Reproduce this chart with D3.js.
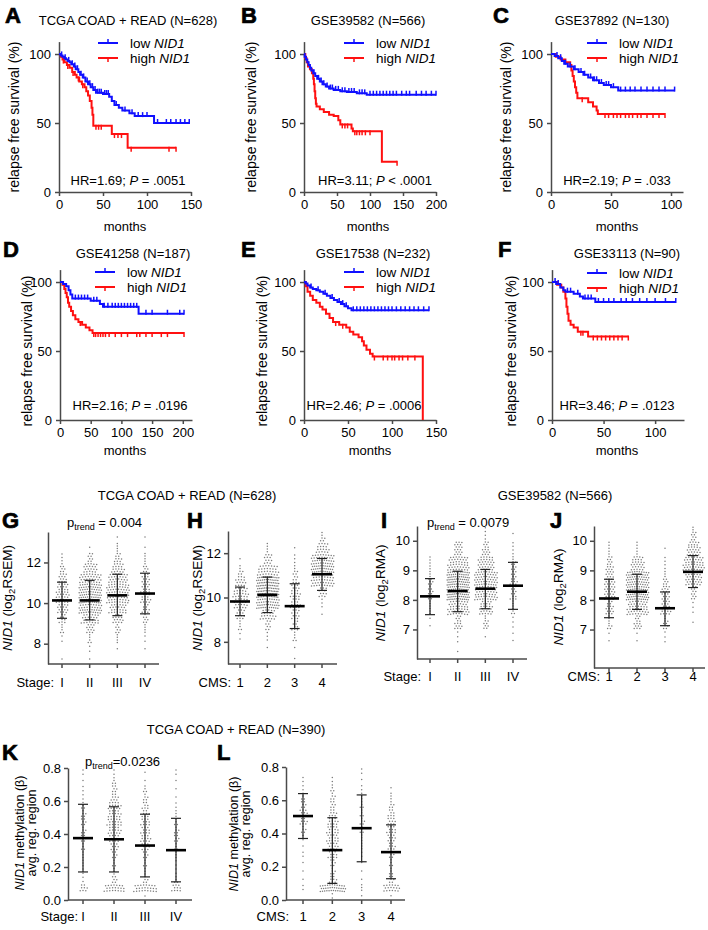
<!DOCTYPE html>
<html><head><meta charset="utf-8">
<script src="https://cdn.jsdelivr.net/npm/d3@7/dist/d3.min.js"></script>
<style>body{margin:0;background:#fff}svg{display:block}</style>
</head><body><svg id="c" width="708" height="930"></svg>
<script>
// ---------------- DATA: Kaplan-Meier steps [month, survival %], curve end, censor months ----------------
const aLow=[[0,100],[2,99],[4,98],[6,97],[8,96],[10,95],[12,94],[14,92.5],[17,91],[19,89],[22,87],[24,85],[27,83],[30,80],[33,78],[36,76],[39,74],[42,72],[50,71],[57,69],[60,66],[63,63],[68,61],[72,59],[80,57],[86,55],[108,50]];
const aLowEnd=148, aLowCens=[3,7,11,15,18,21,25,28,32,35,38,41,44,46,48,52,54,56,65,75,83,90,95,100,112,122,127,133,138,143,148];
const aHigh=[[0,100],[2,98],[4,96],[6,94],[9,92],[12,90],[15,87],[18,85],[20,83],[23,80],[26,78],[29,76],[31,73],[33,70],[35,66],[37,61],[38,56],[39,48],[60,42],[78,32]];
const aHighEnd=133, aHighCens=[5,10,16,22,27,42,45,48,63,67,71,82,125,133];

const bLow=[[0,100],[1,98],[3,96],[5,94],[7,92],[9,90],[11,88],[14,86],[17,84],[20,82],[24,80],[28,78],[33,76.5],[38,75],[45,74],[55,73],[65,72.5],[80,71.5],[95,70.5]];
const bLowEnd=200, bLowCens=[15,22,26,30,35,40,43,48,52,58,62,68,72,76,84,88,92,100,105,110,115,120,125,130,135,140,148,155,160,170,178,185,193,200];
const bHigh=[[0,100],[2,97],[4,94],[6,91],[9,89],[12,86],[14,82],[15,78],[16,73],[17,68],[18,64],[19,62],[24,60],[30,58],[38,56],[45,55],[52,52],[55,49],[72,46],[74,44],[118,22]];
const bHighEnd=141, bHighCens=[58,62,66,77,80,84,88,93,100,141];

const cLow=[[0,100],[3,98.5],[6,97],[9,95],[11,93],[14,91],[19,89],[23,87],[27,85],[31,83],[35,81],[40,79],[44,77.5],[50,76],[56,73.5]];
const cLowEnd=103, cLowCens=[5,8,12,16,20,25,28,33,36,38,42,46,48,52,58,62,66,70,75,80,85,90,95,103];
const cHigh=[[0,100],[4,98],[8,96],[12,94],[16,92],[17,88],[18,84],[19,80],[20,76],[21,72],[22,68],[31,65],[35,62],[38,59],[39,56.5]];
const cHighEnd=95, cHighCens=[26,45,48,52,55,58,62,65,68,72,75,80,85,90,95];

const dLow=[[0,100],[5,98.5],[10,97],[14,94],[17,91],[20,88],[50,86.5],[65,84],[70,82],[128,77]];
const dLowEnd=202, dLowCens=[25,30,35,40,45,55,60,72,78,85,90,95,100,105,110,115,120,125,140,150,175,195,202];
const dHigh=[[0,100],[4,98],[7,95],[9,92],[11,89],[13,85],[15,82],[18,79],[21,76],[25,73],[30,71],[36,69],[42,67],[48,65],[53,63]];
const dHighEnd=202, dHighCens=[33,55,58,62,66,70,74,80,90,100,110,125,130,140,150,165,175,202];

const eLow=[[0,100],[2,99],[4,97.5],[7,96],[10,95],[14,94],[18,93],[22,91.5],[26,90],[30,88.5],[34,87],[38,85.5],[42,84],[46,82.5],[50,81],[54,79.5]];
const eLowEnd=142, eLowCens=[8,16,24,32,40,44,48,56,60,64,68,72,76,80,84,88,92,96,100,105,110,115,120,125,130,136,142];
const eHigh=[[0,100],[2,97],[4,93],[7,90],[10,87],[14,85],[18,82],[21,80],[25,77],[29,74],[33,71],[40,69],[48,67],[52,64],[56,62],[62,60],[66,57],[68,54],[71,51],[75,48],[78,46],[135,0]];
const eHighEnd=135, eHighCens=[36,44,80,90,95,100,103,108,112,118,126];

const fLow=[[0,100],[4,98.5],[8,96],[11,94],[13,93],[21,91.5],[27,89.5],[30,88],[42,85.5]];
const fLowEnd=120, fLowCens=[3,6,15,18,25,32,35,38,45,50,55,60,67,72,78,85,92,100,110,120];
const fHigh=[[0,100],[5,98],[9,96],[11,93],[13,88],[14,82],[15,77],[16,72],[18,69],[21,67],[25,64],[35,60.5]];
const fHighEnd=74, fHighCens=[28,30,40,44,48,52,56,60,64,68,74];

const kmTitles=["TCGA COAD + READ (N=628)","GSE39582 (N=566)","GSE37892 (N=130)","GSE41258 (N=187)","GSE17538 (N=232)","GSE33113 (N=90)"];
const kmHR=["1.69","3.11","2.19","2.16","2.46","3.46"];
const kmP=["= .0051","< .0001","= .033","= .0196","= .0006","= .0123"];
const kmYTicks=[0,50,100];
const kmXTicks=[[0,50,100,150],[0,50,100,150,200],[0,50,100],[0,50,100,150,200],[0,50,100,150],[0,50,100]];
const kmXMax=[150,200,110,215,150,128];

// ---------------- DATA: scatter dot plots (counts per value bin), means, mean±SD ----------------
const stageLabels=["I","II","III","IV"], cmsLabels=["1","2","3","4"];
// G: TCGA NID1 log2 RSEM by stage; bins of 0.5 starting at 7.0
const gCounts=[[1,0,2,5,9,16,20,17,12,7,3,0,0],[1,2,5,12,25,38,45,40,32,20,8,1,0],[0,1,4,7,15,25,33,35,28,18,10,4,1],[0,1,2,4,7,10,14,13,11,7,4,1,1]];
const gMeans=[10.13,10.13,10.38,10.47], gSD=[[9.25,11.03],[9.17,11.12],[9.38,11.42],[9.47,11.47]];
// H: TCGA by CMS; bins of 0.5 starting at 7.0
const hCounts=[[0,0,2,5,12,20,22,15,6,1,0,0],[0,1,3,8,22,42,55,50,30,12,4,0],[1,1,5,9,12,14,14,10,6,3,1,0],[0,0,0,0,1,3,12,35,45,38,18,6]];
const hMeans=[9.82,10.12,9.61,11.05], hSD=[[9.18,10.47],[9.32,10.92],[8.6,10.62],[10.32,11.76]];
// I: GSE39582 log2 RMA by stage; bins of 0.5 starting at 6.0
const iCounts=[[0,0,2,6,11,9,5,0,0],[1,3,15,45,70,70,45,18,0],[0,1,10,28,50,55,35,15,4],[0,2,3,7,13,14,10,4,1]];
const iMeans=[8.12,8.3,8.38,8.48], iSD=[[7.5,8.72],[7.6,8.97],[7.7,9.03],[7.68,9.27]];
// J: GSE39582 by CMS; bins of 0.5 starting at 6.0
const jCounts=[[0,2,8,16,24,20,14,5,0],[0,2,15,45,65,60,28,5,0],[0,3,10,20,18,9,4,1,0],[0,0,1,3,12,35,45,28,10]];
const jMeans=[8.05,8.28,7.72,8.95], jSD=[[7.4,8.7],[7.68,8.87],[7.13,8.27],[8.42,9.5]];
// K: TCGA methylation beta by stage; bins of 0.05 starting at 0
const kCounts=[[0,8,2,2,3,3,4,6,5,6,5,4,2,2,1,2],[0,22,6,3,4,6,9,12,14,16,14,14,8,6,4,2],[1,25,5,3,4,6,9,11,10,10,8,7,5,4,1,1],[0,10,4,2,2,3,4,6,5,4,3,2,1,1,1,2]];
const kMeans=[0.375,0.368,0.33,0.302], kSD=[[0.17,0.58],[0.17,0.565],[0.14,0.52],[0.11,0.495]];
// L: TCGA methylation by CMS
const lCounts=[[0,2,1,1,1,2,1,2,5,8,9,6,4,2,2,0],[2,35,8,5,6,10,12,13,13,11,8,6,5,4,2,0],[1,3,1,1,1,2,3,3,4,5,4,4,3,2,1,2],[1,18,6,4,4,6,8,9,10,9,7,5,3,1,0,0]];
const lMeans=[0.505,0.30,0.432,0.288], lSD=[[0.37,0.64],[0.10,0.495],[0.23,0.632],[0.128,0.452]];

// ---------------- DRAWING ----------------
const FONT='"Liberation Sans", Arial, Helvetica, sans-serif';
const AX="#4a4a4a", BLUE="#1010ff", RED="#ff1010";
const svg=d3.select("#c").attr("font-family",FONT);
svg.append("rect").attr("width",708).attr("height",930).attr("fill","#fff");

function txt(x,y,s,size,anchor){return svg.append("text").attr("x",x).attr("y",y).attr("font-size",size).attr("text-anchor",anchor||"start").attr("fill","#000").text(s);}
function letter(x,y,s){txt(x,y,s,22).attr("font-weight","bold").attr("stroke","#000").attr("stroke-width",0.7);}
function styleAxis(a,size){
  a.attr("font-family",FONT).attr("font-size",size||13);
  a.select(".domain").attr("stroke",AX).attr("stroke-width",1.5);
  a.selectAll(".tick line").attr("stroke",AX).attr("stroke-width",1.5);
  a.selectAll(".tick text").attr("fill","#000");
}
function survAt(steps,t){let s=steps[0][1];for(const p of steps){if(p[0]<=t)s=p[1];}return s;}

const kmData=[[aLow,aLowEnd,aLowCens,aHigh,aHighEnd,aHighCens],[bLow,bLowEnd,bLowCens,bHigh,bHighEnd,bHighCens],[cLow,cLowEnd,cLowCens,cHigh,cHighEnd,cHighCens],
              [dLow,dLowEnd,dLowCens,dHigh,dHighEnd,dHighCens],[eLow,eLowEnd,eLowCens,eHigh,eHighEnd,eHighCens],[fLow,fLowEnd,fLowCens,fHigh,fHighEnd,fHighCens]];
const kmLayout=[
 {L:"A",lx:5,ly:23,tx:128,ty:25,x0:59,yb:192,legX:98,legY:43,hrX:128,hrY:185,ylx:19,yly:117,mx:125,my:231,extra:""},
 {L:"B",lx:241,ly:23,tx:368,ty:25,x0:304,yb:192,legX:344,legY:43,hrX:375,hrY:185,ylx:256,yly:117,mx:368,my:231,extra:""},
 {L:"C",lx:493,ly:23,tx:612,ty:25,x0:551,yb:192,legX:587,legY:43,hrX:617,hrY:185,ylx:511,yly:117,mx:617,my:231,extra:" "},
 {L:"D",lx:3,ly:257,tx:133,ty:258,x0:60,yb:420,legX:95,legY:272,hrX:130,hrY:410,ylx:32,yly:351,mx:125,my:455,extra:""},
 {L:"E",lx:241,ly:257,tx:373,ty:258,x0:304,yb:420,legX:344,legY:272,hrX:364,hrY:410,ylx:267,yly:351,mx:370,my:455,extra:""},
 {L:"F",lx:498,ly:257,tx:627,ty:258,x0:552,yb:420,legX:587,legY:273,hrX:617,hrY:410,ylx:516,yly:351,mx:617,my:455,extra:""}
];

kmLayout.forEach((p,i)=>{
  const [low,lowEnd,lowC,high,highEnd,highC]=kmData[i];
  const x=d3.scaleLinear().domain([0,kmXMax[i]]).range([p.x0,p.x0+132]);
  const y=d3.scaleLinear().domain([0,109]).range([p.yb,p.yb-150.4]);
  const ya=svg.append("g").attr("transform",`translate(${p.x0},0)`).call(d3.axisLeft(y).tickValues(kmYTicks).tickSize(4).tickSizeOuter(0).tickPadding(4));
  const xa=svg.append("g").attr("transform",`translate(0,${p.yb})`).call(d3.axisBottom(x).tickValues(kmXTicks[i]).tickSize(4).tickSizeOuter(0).tickPadding(4));
  styleAxis(ya);styleAxis(xa);
  const line=d3.line().x(d=>x(d[0])).y(d=>y(d[1])).curve(d3.curveStepAfter);
  [[high,highEnd,highC,RED,1],[low,lowEnd,lowC,BLUE,-1]].forEach(([st,end,cens,col,dir])=>{
    const pts=st.concat([[end,st[st.length-1][1]]]);
    svg.append("path").attr("d",line(pts)).attr("fill","none").attr("stroke",col).attr("stroke-width",2);
    svg.append("g").selectAll("line").data(cens).join("line")
      .attr("x1",d=>x(d)).attr("x2",d=>x(d))
      .attr("y1",d=>y(survAt(st,d))+(dir<0?1:-1)).attr("y2",d=>y(survAt(st,d))+(dir<0?-4:4))
      .attr("stroke",col).attr("stroke-width",1.5);
  });
  // legend
  [[BLUE,"low ",-1,0],[RED,"high ",1,15]].forEach(([col,lab,dir,dy])=>{
    const yy=p.legY+dy, cx=p.legX+10;
    svg.append("line").attr("x1",p.legX).attr("x2",p.legX+20).attr("y1",yy).attr("y2",yy).attr("stroke",col).attr("stroke-width",2);
    svg.append("line").attr("x1",cx).attr("x2",cx).attr("y1",yy+(dir<0?1:-1)).attr("y2",yy+(dir<0?-4:4)).attr("stroke",col).attr("stroke-width",1.5);
    const t=txt(p.legX+32,yy+5,"",13.5);
    t.append("tspan").text(lab+(dir<0?p.extra:""));
    t.append("tspan").attr("font-style","italic").text("NID1");
  });
  letter(p.lx,p.ly,p.L);
  txt(p.tx,p.ty,kmTitles[i],13,"middle");
  const h=txt(p.hrX,p.hrY,"",13,"middle");
  h.append("tspan").text("HR="+kmHR[i]+"; ");
  h.append("tspan").attr("font-style","italic").text("P");
  h.append("tspan").text(" "+kmP[i]);
  svg.append("text").attr("transform",`translate(${p.ylx},${p.yly}) rotate(-90)`).attr("text-anchor","middle").attr("font-size",14).text("relapse free survival (%)");
  txt(p.mx,p.my,"months",13,"middle");
});

// ---------- scatter dot plots ----------
function drawDots(p){
  const y=d3.scaleLinear().domain(p.dom).range([p.yb,p.yt]);
  const x=d3.scalePoint().domain(p.cats).range(p.xr);
  const ya=svg.append("g").attr("transform",`translate(${p.x0},0)`).call(d3.axisLeft(y).tickValues(p.ticks).tickFormat(p.fmt||d3.format("d")).tickSize(4).tickSizeOuter(0).tickPadding(3));
  styleAxis(ya,p.fs||13);
  svg.append("line").attr("x1",p.x0).attr("x2",p.xend).attr("y1",p.yb).attr("y2",p.yb).attr("stroke",AX).attr("stroke-width",1.5);
  svg.append("g").selectAll("line").data(p.cats).join("line").attr("x1",d=>x(d)).attr("x2",d=>x(d)).attr("y1",p.yb).attr("y2",p.yb+4).attr("stroke",AX).attr("stroke-width",1.5);
  svg.append("g").selectAll("text").data(p.cats).join("text").attr("x",d=>x(d)).attr("y",p.tly).attr("text-anchor","middle").attr("font-size",13).text(d=>d);
  txt(p.labEnd,p.tly,p.axisName,13,"end");
  // dots
  const pts=[];
  p.counts.forEach((counts,gi)=>{
    const cx=x(p.cats[gi]);
    counts.forEach((c,b)=>{
      if(!c)return;
      const v0=p.lo+b*p.step, bot=y(v0), top=y(v0+p.step), h=bot-top;
      const r=Math.max(1,Math.min(c,Math.floor(h/2.3)));
      const rows=d3.range(r).map(()=>0);
      for(let k=0;k<c;k++)rows[k%r]++;
      rows.forEach((m,ri)=>{
        const yy=bot-(ri+0.5)*h/r;
        let sp=2.8; if(m>1&&(m-1)*sp/2>p.maxHalf)sp=2*p.maxHalf/(m-1);
        const sh=(ri%2&&m>1)?sp*0.5:0;
        for(let k=0;k<m;k++){const off=(k-(m-1)/2)*sp+sh;pts.push([cx+off,yy+Math.abs(off)*0.1]);}
      });
    });
  });
  svg.append("g").selectAll("circle").data(pts).join("circle").attr("cx",d=>d[0]).attr("cy",d=>d[1]).attr("r",0.75).attr("fill","#7a7a7a");
  // mean and SD
  p.cats.forEach((c,gi)=>{
    const cx=x(c), [lo,hi]=p.sd[gi];
    const g=svg.append("g").attr("stroke","#222");
    g.append("line").attr("x1",cx).attr("x2",cx).attr("y1",y(lo)).attr("y2",y(hi)).attr("stroke-width",1.2);
    g.append("line").attr("x1",cx-5).attr("x2",cx+5).attr("y1",y(lo)).attr("y2",y(lo)).attr("stroke-width",1.2);
    g.append("line").attr("x1",cx-5).attr("x2",cx+5).attr("y1",y(hi)).attr("y2",y(hi)).attr("stroke-width",1.2);
    svg.append("line").attr("x1",cx-10).attr("x2",cx+10).attr("y1",y(p.means[gi])).attr("y2",y(p.means[gi])).attr("stroke","#000").attr("stroke-width",2.6);
  });
  letter(p.lx,p.ly,p.L);
}
function ylabExpr(x,cy,unit){
  const t=svg.append("text").attr("transform",`translate(${x},${cy}) rotate(-90)`).attr("text-anchor","middle").attr("font-size",13.5);
  t.append("tspan").attr("font-style","italic").text("NID1");
  t.append("tspan").text(" (log");
  t.append("tspan").attr("font-size",9.5).attr("dy",3).text("2");
  t.append("tspan").attr("dy",-3).text(unit+")");
}
function ylabMeth(x,cy){
  const t=svg.append("text").attr("transform",`translate(${x},${cy}) rotate(-90)`).attr("text-anchor","middle").attr("font-size",12.5);
  t.append("tspan").attr("font-style","italic").text("NID1");
  t.append("tspan").text(" methylation (β)");
  svg.append("text").attr("transform",`translate(${x+11.5},${cy}) rotate(-90)`).attr("text-anchor","middle").attr("font-size",12.5).text("avg. reg. region");
}
function ptrend(x,y,val,sep){
  const t=txt(x,y,"",13);
  t.append("tspan").text("p");
  t.append("tspan").attr("font-size",9).attr("dy",3).text("trend");
  t.append("tspan").attr("dy",-3).text(sep+val);
}

txt(187,500,"TCGA COAD + READ (N=628)",13,"middle");
txt(555,500,"GSE39582 (N=566)",13,"middle");
txt(236,734,"TCGA COAD + READ (N=390)",13,"middle");

drawDots({L:"G",lx:2,ly:528,x0:48,yb:664,yt:532,dom:[7,13.5],ticks:[8,10,12],cats:stageLabels,xr:[62,145],xend:159,tly:687,labEnd:54,axisName:"Stage:",counts:gCounts,lo:7,step:0.5,means:gMeans,sd:gSD,maxHalf:10.5});
drawDots({L:"H",lx:187,ly:528,x0:228,yb:664,yt:531,dom:[7,13],ticks:[8,10,12],cats:cmsLabels,xr:[240,322],xend:337,tly:687,labEnd:231,axisName:"CMS:",counts:hCounts,lo:7,step:0.5,means:hMeans,sd:hSD,maxHalf:10.5});
drawDots({L:"I",lx:381,ly:528,x0:417,yb:659,yt:526,dom:[6,10.5],ticks:[7,8,9,10],cats:stageLabels,xr:[430,513],xend:527,tly:681,labEnd:421,axisName:"Stage:",counts:iCounts,lo:6,step:0.5,means:iMeans,sd:iSD,maxHalf:10.5});
drawDots({L:"J",lx:550,ly:528,x0:594,yb:668,yt:526,dom:[5.7,10.5],ticks:[7,8,9,10],cats:cmsLabels,xr:[609,693],xend:705,tly:681,labEnd:600,axisName:"CMS:",counts:jCounts,lo:6,step:0.5,means:jMeans,sd:jSD,maxHalf:10.5});
drawDots({L:"K",lx:2,ly:760,x0:68,yb:900,yt:768,dom:[0,0.8],ticks:[0,0.2,0.4,0.6,0.8],fmt:d3.format(".1f"),cats:stageLabels,xr:[83,176],xend:192,tly:921,labEnd:78,axisName:"Stage:",counts:kCounts,lo:0,step:0.05,means:kMeans,sd:kSD,maxHalf:13});
drawDots({L:"L",lx:217,ly:760,x0:286,yb:900,yt:767,dom:[0,0.8],ticks:[0,0.2,0.4,0.6,0.8],fmt:d3.format(".1f"),cats:cmsLabels,xr:[303,391],xend:405,tly:921,labEnd:289,axisName:"CMS:",counts:lCounts,lo:0,step:0.05,means:lMeans,sd:lSD,maxHalf:12});

ylabExpr(12,598,"RSEM");
ylabExpr(202,598,"RSEM");
ylabExpr(385,593,"RMA");
ylabExpr(563,597,"RMA");
ylabMeth(24,833);
ylabMeth(238,834);
ptrend(67,527,"0.004"," = ");
ptrend(427,527,"0.0079"," = ");
ptrend(85,766,"0.0236","=");
</script></body></html>
